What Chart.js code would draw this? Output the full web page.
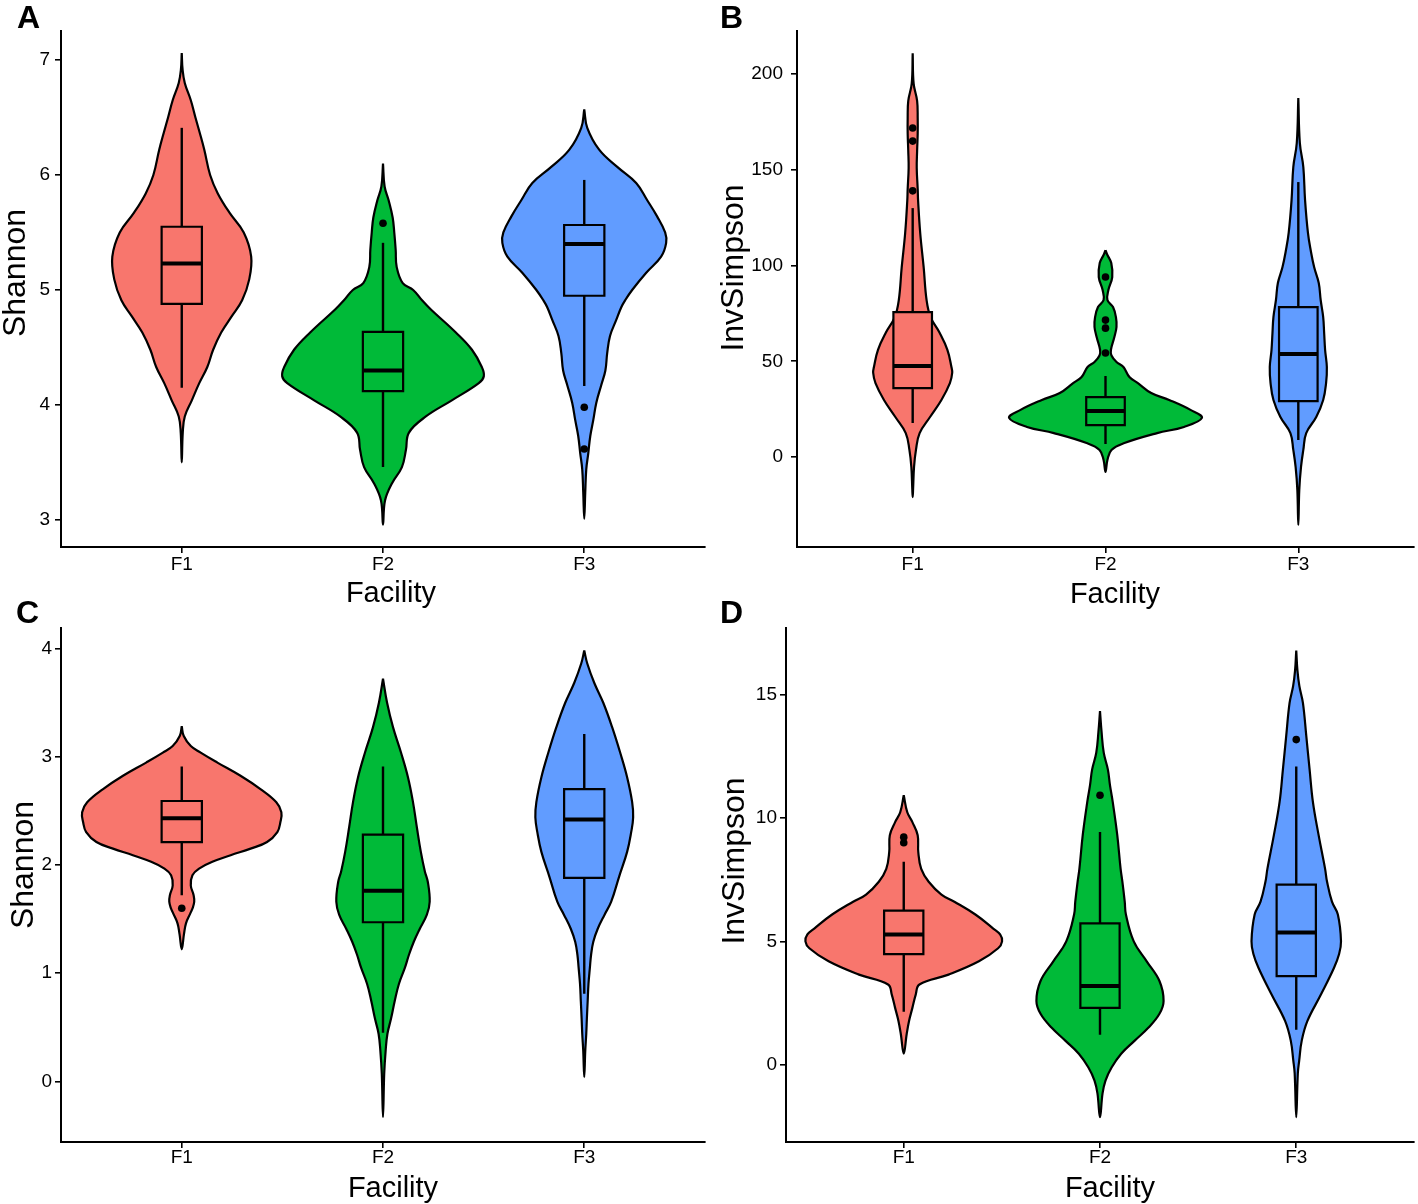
<!DOCTYPE html>
<html>
<head>
<meta charset="utf-8">
<script src="https://cdn.jsdelivr.net/npm/chart.js@4.4.1/dist/chart.umd.min.js"></script>
<style>
  body { margin: 0; background: #fff; width: 1418px; height: 1204px; position: relative; overflow: hidden;
         font-family: "Liberation Sans", Arial, sans-serif; color: #000; }
  canvas { position: absolute; }
  .tag { position: absolute; font-weight: bold; font-size: 32px; line-height: 32px; }
  .xt { position: absolute; font-size: 29px; line-height: 29px; transform: translateX(-50%); white-space: nowrap; }
  .yt { position: absolute; font-size: 32px; line-height: 32px; transform: translate(-50%, -50%) rotate(-90deg); white-space: nowrap; }
</style>
</head>
<body>
<canvas id="pA" width="712" height="615" style="left:0;top:0"></canvas>
<canvas id="pB" width="706" height="615" style="left:712px;top:0"></canvas>
<canvas id="pC" width="712" height="589" style="left:0;top:615px"></canvas>
<canvas id="pD" width="706" height="589" style="left:712px;top:615px"></canvas>

<div class="tag" style="left:17px;top:1px">A</div>
<div class="tag" style="left:720px;top:1px">B</div>
<div class="tag" style="left:16px;top:596px">C</div>
<div class="tag" style="left:720px;top:596px">D</div>

<div class="yt" style="left:14px;top:273px">Shannon</div>
<div class="yt" style="left:732px;top:268px">InvSimpson</div>
<div class="yt" style="left:22px;top:865px">Shannon</div>
<div class="yt" style="left:733px;top:861px">InvSimpson</div>

<div class="xt" style="left:391px;top:578px">Facility</div>
<div class="xt" style="left:1115px;top:579px">Facility</div>
<div class="xt" style="left:393px;top:1173px">Facility</div>
<div class="xt" style="left:1110px;top:1173px">Facility</div>

<script>
const facilities = ['F1', 'F2', 'F3'];
const colors = ['#F8766D', '#00BA38', '#619CFF'];

// violin outlines: [value, half width in category units], top to bottom
const violinA = [
  [[7.06,0],[6.92,0.004],[6.80,0.015],[6.65,0.045],[6.50,0.068],[6.37,0.089],[6.22,0.112],[6.00,0.141],[5.84,0.179],[5.67,0.238],[5.50,0.308],[5.29,0.345],[5.09,0.335],[4.91,0.300],[4.77,0.248],[4.63,0.196],[4.48,0.156],[4.33,0.127],[4.19,0.087],[4.04,0.050],[3.90,0.015],[3.76,0.005],[3.50,0]],
  [[6.10,0],[5.90,0.008],[5.78,0.028],[5.63,0.048],[5.50,0.056],[5.35,0.063],[5.20,0.068],[5.06,0.098],[5.00,0.150],[4.91,0.194],[4.83,0.238],[4.63,0.362],[4.48,0.442],[4.33,0.491],[4.25,0.501],[4.19,0.476],[4.04,0.342],[3.90,0.213],[3.76,0.129],[3.61,0.114],[3.46,0.094],[3.32,0.045],[3.17,0.010],[2.96,0]],
  [[6.57,0],[6.41,0.015],[6.22,0.074],[6.07,0.164],[5.93,0.258],[5.78,0.313],[5.64,0.362],[5.50,0.402],[5.41,0.407],[5.29,0.382],[5.15,0.308],[5.00,0.238],[4.91,0.203],[4.85,0.184],[4.74,0.159],[4.60,0.128],[4.45,0.114],[4.30,0.105],[4.17,0.084],[4.02,0.060],[3.87,0.045],[3.73,0.030],[3.58,0.020],[3.44,0.010],[3.24,0.005],[3.01,0]]
];
const violinB = [
  [[210.9,0],[195,0.005],[186,0.023],[177,0.026],[169,0.026],[160,0.023],[151,0.021],[140,0.026],[134,0.028],[117,0.039],[99,0.057],[82,0.072],[73,0.093],[65,0.139],[56,0.180],[47,0.201],[44,0.205],[38.6,0.193],[29.8,0.149],[20.9,0.090],[12.5,0.036],[3.7,0.017],[-5.2,0.007],[-17,0.002],[-20.9,0]],
  [[108,0],[105.5,0.010],[101.3,0.030],[94,0.035],[87.2,0.015],[82,0.010],[78.3,0.039],[73.1,0.054],[67.9,0.057],[62.7,0.046],[55.9,0.028],[53,0.031],[49.6,0.057],[47,0.093],[41.8,0.124],[38.6,0.168],[33.4,0.237],[29.8,0.330],[24.5,0.443],[20.4,0.500],[15.7,0.407],[12.5,0.268],[7.3,0.098],[3.7,0.031],[-1.6,0.010],[-7.8,0]],
  [[187.5,0],[164,0.008],[151.4,0.026],[134.2,0.035],[117,0.050],[108.1,0.064],[99.2,0.082],[90.9,0.106],[82,0.116],[73.1,0.129],[64.8,0.134],[55.9,0.139],[47,0.148],[38.6,0.144],[29.8,0.129],[20.9,0.093],[12.5,0.041],[3.7,0.026],[-5.2,0.014],[-17.2,0.005],[-35.5,0]]
];
const violinC = [
  [[3.28,0],[3.19,0.010],[3.098,0.045],[3.037,0.094],[2.945,0.177],[2.823,0.292],[2.70,0.391],[2.578,0.470],[2.486,0.495],[2.394,0.490],[2.303,0.475],[2.211,0.424],[2.150,0.342],[2.089,0.243],[2.028,0.152],[1.966,0.086],[1.905,0.053],[1.81,0.045],[1.72,0.059],[1.66,0.062],[1.60,0.054],[1.55,0.042],[1.46,0.021],[1.36,0.011],[1.22,0]],
  [[3.72,0],[3.50,0.020],[3.27,0.050],[3.04,0.089],[2.81,0.124],[2.58,0.149],[2.35,0.168],[2.12,0.188],[1.94,0.208],[1.84,0.223],[1.66,0.232],[1.54,0.218],[1.41,0.183],[1.29,0.153],[1.17,0.129],[1.05,0.109],[0.90,0.079],[0.74,0.058],[0.58,0.040],[0.44,0.022],[0.28,0.013],[0.07,0.006],[-0.33,0]],
  [[3.98,0],[3.86,0.015],[3.68,0.050],[3.50,0.094],[3.27,0.139],[3.04,0.178],[2.81,0.213],[2.58,0.238],[2.44,0.243],[2.30,0.233],[2.12,0.213],[1.89,0.173],[1.66,0.134],[1.54,0.101],[1.41,0.067],[1.29,0.045],[1.17,0.034],[1.05,0.028],[0.90,0.021],[0.74,0.017],[0.58,0.013],[0.44,0.010],[0.28,0.005],[0.04,0]]
];
const violinD = [
  [[10.93,0],[10.24,0.018],[9.84,0.044],[9.31,0.071],[8.63,0.074],[7.94,0.089],[7.42,0.127],[6.90,0.192],[6.61,0.258],[6.09,0.365],[5.52,0.456],[5.28,0.491],[5.00,0.501],[4.72,0.481],[4.19,0.383],[3.65,0.228],[3.25,0.080],[2.84,0.061],[2.30,0.044],[1.77,0.027],[1.24,0.015],[0.44,0]],
  [[14.35,0],[13.5,0.008],[12.66,0.019],[11.98,0.040],[11.33,0.051],[10.65,0.065],[9.31,0.088],[7.94,0.105],[7.42,0.114],[6.61,0.126],[6.09,0.132],[5.00,0.172],[4.19,0.238],[3.39,0.303],[2.58,0.324],[2.06,0.303],[1.49,0.246],[0.97,0.177],[0.44,0.108],[-0.12,0.059],[-0.65,0.028],[-1.17,0.013],[-2.14,0]],
  [[16.8,0],[16.0,0.006],[15.36,0.016],[14.68,0.034],[13.35,0.051],[11.98,0.068],[10.65,0.085],[9.31,0.114],[7.94,0.147],[7.42,0.157],[6.61,0.182],[6.09,0.212],[5.00,0.228],[4.48,0.218],[3.92,0.192],[2.86,0.127],[1.77,0.057],[0.97,0.028],[0.16,0.015],[-0.36,0.008],[-2.14,0]]
];

// box stats per facility: [lower whisker, q1, median, q3, upper whisker]
const boxA = [[4.15,4.88,5.23,5.55,6.41],[3.46,4.12,4.30,4.635,5.41],[4.165,4.95,5.40,5.565,5.957]];
const boxB = [[17.7,36.0,47.5,75.7,130],[6.8,16.7,24.0,31.3,42.3],[8.9,29.2,53.8,78.3,143.6]];
const boxC = [[1.72,2.21,2.43,2.59,2.91],[0.45,1.47,1.76,2.28,2.91],[0.81,1.88,2.42,2.70,3.21]];
const boxD = [[2.14,4.48,5.28,6.25,8.23],[1.21,2.30,3.19,5.73,9.44],[1.41,3.59,5.36,7.30,12.1]];

const outliersA = [[], [5.58], [3.98, 3.617]];
const outliersB = [[171.8, 165, 139], [94, 71.5, 67.3, 54.3], []];
const outliersC = [[1.60], [], []];
const outliersD = [[9.23, 9.0], [10.93], [13.19]];

const ticksA = [3, 4, 5, 6, 7];
const ticksB = [0, 50, 100, 150, 200];
const ticksC = [0, 1, 2, 3, 4];
const ticksD = [0, 5, 10, 15];

const FONT = "'Liberation Sans', Arial, sans-serif";
const BOX_HALF = 0.1;

function violinPath(c, prof) {
  const right = prof.map(([v, w]) => ({x: c + w, y: v}));
  const left = prof.slice(0, -1).reverse().map(([v, w]) => ({x: c - w, y: v}));
  return right.concat(left);
}

function buildDatasets(violins, boxes, outliers) {
  const sets = [];
  facilities.forEach((f, i) => {
    const c = i + 1;
    const [lo, q1, med, q3, hi] = boxes[i];
    sets.push({
      data: violinPath(c, violins[i]), showLine: true, fill: 'shape', tension: 0.4,
      backgroundColor: colors[i], borderColor: '#000', borderWidth: 2.2, pointRadius: 0, order: 5
    });
    sets.push({
      data: [{x: c - BOX_HALF, y: q1}, {x: c + BOX_HALF, y: q1}, {x: c + BOX_HALF, y: q3}, {x: c - BOX_HALF, y: q3}, {x: c - BOX_HALF, y: q1}],
      showLine: true, fill: 'shape', tension: 0, backgroundColor: colors[i], borderColor: '#000',
      borderWidth: 2.2, borderCapStyle: 'square', borderJoinStyle: 'miter', pointRadius: 0, order: 4
    });
    sets.push({
      data: [{x: c, y: q3}, {x: c, y: hi}], showLine: true, borderColor: '#000', borderWidth: 2.4, pointRadius: 0, order: 3
    });
    sets.push({
      data: [{x: c, y: q1}, {x: c, y: lo}], showLine: true, borderColor: '#000', borderWidth: 2.4, pointRadius: 0, order: 3
    });
    sets.push({
      data: [{x: c - BOX_HALF, y: med}, {x: c + BOX_HALF, y: med}], showLine: true, borderColor: '#000', borderWidth: 4, pointRadius: 0, order: 2
    });
    sets.push({
      data: outliers[i].map(v => ({x: c, y: v})), showLine: false, pointRadius: 3.8,
      pointBackgroundColor: '#000', pointBorderColor: '#000', pointBorderWidth: 0, order: 1
    });
  });
  return sets;
}

function makePanel(id, violins, boxes, outliers, yTicks, yMin, yMax, cfg) {
  const tickFont = {family: FONT, size: 19, lineHeight: 1};
  new Chart(document.getElementById(id), {
    type: 'scatter',
    data: {datasets: buildDatasets(violins, boxes, outliers)},
    options: {
      responsive: false,
      animation: false,
      events: [],
      layout: {padding: {top: cfg.padTop, right: cfg.padRight, left: 0, bottom: 0}},
      plugins: {legend: {display: false}, tooltip: {enabled: false}},
      scales: {
        x: {
          type: 'linear', min: 0.4, max: 3.6,
          afterBuildTicks: s => { s.ticks = facilities.map((f, i) => ({value: i + 1})); },
          ticks: {callback: v => facilities[Math.round(v) - 1], font: tickFont, color: '#000', padding: cfg.xTickPad, maxRotation: 0},
          grid: {drawOnChartArea: false, drawTicks: true, tickLength: 6, color: '#000', lineWidth: 1.6},
          border: {color: '#000', width: 2},
          afterFit: s => { s.height = cfg.xAxisH; }
        },
        y: {
          min: yMin, max: yMax,
          afterBuildTicks: s => { s.ticks = yTicks.map(v => ({value: v})); },
          ticks: {callback: v => String(v), font: tickFont, color: '#000', padding: cfg.yTickPad},
          grid: {drawOnChartArea: false, drawTicks: true, tickLength: 6, color: '#000', lineWidth: 1.6},
          border: {color: '#000', width: 2},
          afterFit: s => { s.width = cfg.yAxisW; }
        }
      }
    }
  });
}

makePanel('pA', violinA, boxA, outliersA, ticksA, 2.765, 7.252,
  {padTop: 31, padRight: 7, yAxisW: 61, xAxisH: 68, yTickPad: 5, xTickPad: 2});
makePanel('pB', violinB, boxB, outliersB, ticksB, -47, 222.5,
  {padTop: 31, padRight: 1, yAxisW: 85, xAxisH: 68, yTickPad: 8, xTickPad: 2});
makePanel('pC', violinC, boxC, outliersC, ticksC, -0.56, 4.193,
  {padTop: 9, padRight: 7, yAxisW: 61, xAxisH: 62, yTickPad: 3, xTickPad: 0.5});
makePanel('pD', violinD, boxD, outliersD, ticksD, -3.145, 17.74,
  {padTop: 9, padRight: 1, yAxisW: 74, xAxisH: 62, yTickPad: 3, xTickPad: 0.5});
</script>
</body>
</html>
